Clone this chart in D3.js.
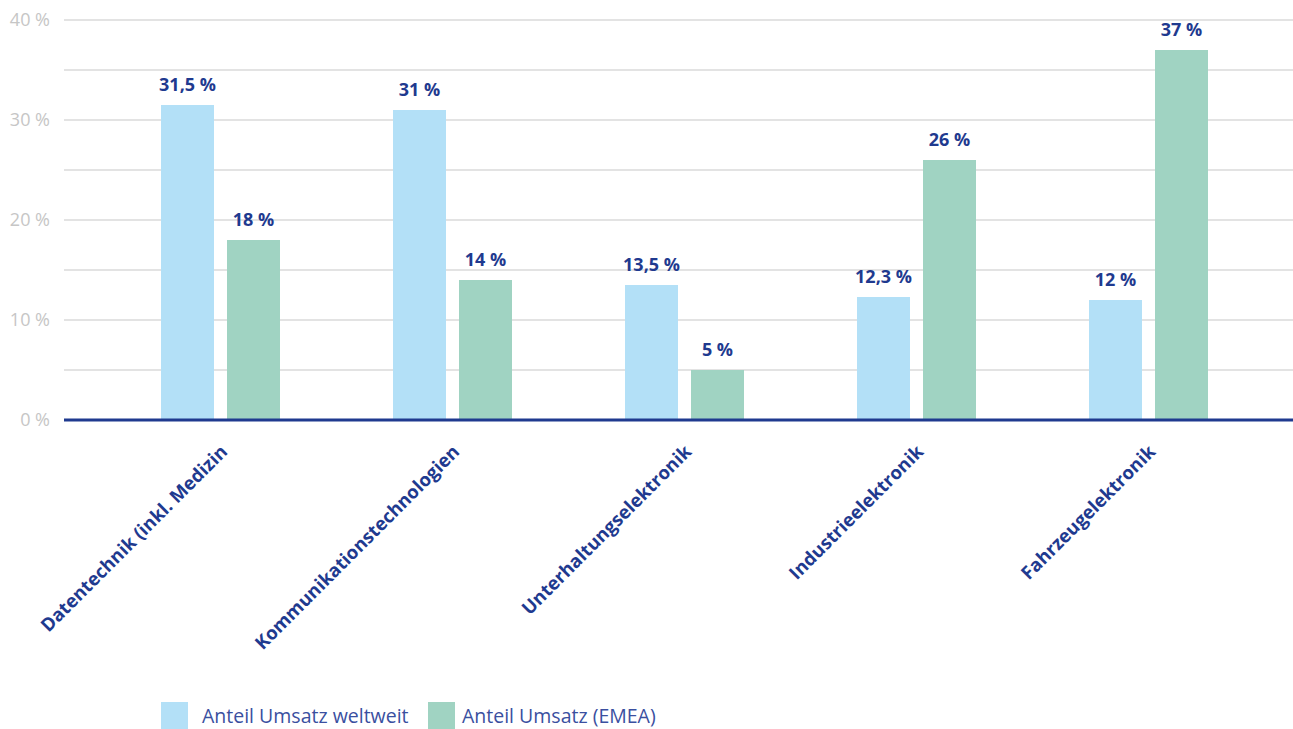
<!DOCTYPE html>
<html>
<head>
<meta charset="utf-8">
<script src="https://cdn.jsdelivr.net/npm/d3@7"></script>
<style>
  body { margin: 0; background: #fff; }
  svg { display: block; font-family: "Open Sans", "Noto Sans", sans-serif; }
</style>
</head>
<body>
<div id="chart"></div>
<script>
// data
const categories = ['Datentechnik (inkl. Medizin', 'Kommunikationstechnologien', 'Unterhaltungselektronik', 'Industrieelektronik', 'Fahrzeugelektronik'];
const seriesNames = ['Anteil Umsatz weltweit', 'Anteil Umsatz (EMEA)'];
const weltweit = [31.5, 31, 13.5, 12.3, 12];
const emea = [18, 14, 5, 26, 37];
const yTicks = [0, 10, 20, 30, 40];

const width = 1293, height = 729;
const colors = ['#b3e0f7', '#a0d3c2'];
const navy = '#1f3a8f';

const fmt = v => String(v).replace('.', ',') + ' %';

const svg = d3.select('#chart').append('svg')
    .attr('width', width)
    .attr('height', height);

// scales
const x = d3.scaleBand().domain(categories).range([104.5, 1264.5]);
const y = d3.scaleLinear().domain([0, 40]).range([420, 20]);
const inner = d3.scaleBand().domain([0, 1]).range([-59.5, 59.5]).paddingInner(0.197);

// gridlines every 5 %
svg.append('g')
    .selectAll('line')
    .data(d3.range(5, 41, 5))
    .join('line')
    .attr('x1', 64).attr('x2', width)
    .attr('y1', d => y(d)).attr('y2', d => y(d))
    .attr('stroke', '#c8c8c8')
    .attr('stroke-width', 1.2);

// y axis labels
svg.append('g')
    .selectAll('text')
    .data(yTicks)
    .join('text')
    .attr('x', 50)
    .attr('y', d => y(d))
    .attr('dy', '0.36em')
    .attr('text-anchor', 'end')
    .attr('fill', '#c6c6c6')
    .attr('font-size', 18)
    .text(d => d + ' %');

// bars
const rows = categories.map((c, i) => ({ cat: c, vals: [weltweit[i], emea[i]] }));
const groups = svg.append('g')
    .selectAll('g')
    .data(rows)
    .join('g')
    .attr('transform', d => `translate(${x(d.cat) + x.bandwidth() / 2},0)`);

groups.selectAll('rect')
    .data(d => d.vals.map((v, k) => ({ v, k })))
    .join('rect')
    .attr('x', d => inner(d.k))
    .attr('width', inner.bandwidth())
    .attr('y', d => y(d.v))
    .attr('height', d => y(0) - y(d.v))
    .attr('fill', d => colors[d.k]);

groups.selectAll('text')
    .data(d => d.vals.map((v, k) => ({ v, k })))
    .join('text')
    .attr('x', d => inner(d.k) + inner.bandwidth() / 2)
    .attr('y', d => y(d.v) - 14)
    .attr('text-anchor', 'middle')
    .attr('fill', navy)
    .attr('font-weight', 'bold')
    .attr('font-size', 18)
    .text(d => fmt(d.v));

// baseline
svg.append('line')
    .attr('x1', 64).attr('x2', width)
    .attr('y1', y(0)).attr('y2', y(0))
    .attr('stroke', navy)
    .attr('stroke-width', 3);

// category labels, rotated
svg.append('g')
    .selectAll('text')
    .data(categories)
    .join('text')
    .attr('transform', d => `translate(${x(d) + x.bandwidth() / 2 + 8},${y(0) + 33}) rotate(-45)`)
    .attr('text-anchor', 'end')
    .attr('fill', navy)
    .attr('font-weight', 'bold')
    .attr('font-size', 18.5)
    .text(d => d);

// legend
const legend = svg.append('g')
    .selectAll('g')
    .data(seriesNames)
    .join('g')
    .attr('transform', (d, i) => `translate(${[161, 428][i]},702)`);

legend.append('rect')
    .attr('width', 27).attr('height', 27)
    .attr('fill', (d, i) => colors[i]);

legend.append('text')
    .attr('x', (d, i) => [41, 34][i])
    .attr('y', 14)
    .attr('dy', '0.35em')
    .attr('fill', '#3a4f9f')
    .attr('font-size', 19.5)
    .text(d => d);
</script>
</body>
</html>
